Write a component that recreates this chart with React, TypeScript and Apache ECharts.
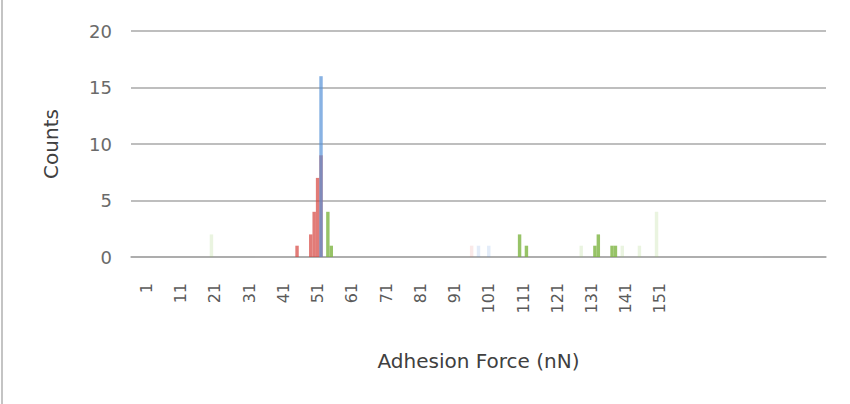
import React, { useEffect, useRef } from "react";
import * as echarts from "echarts";

// Histogram bins (Adhesion Force, nN). Excel-style axis: 4 empty leading slots,
// labelled bins 1..160, then empty trailing slots.
const LEAD_BLANKS = 4;
const BIN_COUNT = 160;
const TOTAL_SLOTS = 203;
const binLabels: string[] = Array.from({ length: BIN_COUNT }, (_, i) => String(i + 1));

// Counts per bin as [bin, count]
const redCounts: [number, number][] = [[45, 1], [49, 2], [50, 4], [51, 7], [52, 9]];
const blueCounts: [number, number][] = [[52, 16]];
const greenCounts: [number, number][] = [
  [54, 4], [55, 1], [110, 2], [112, 1], [132, 1], [133, 2], [137, 1], [138, 1],
];
const redLightCounts: [number, number][] = [[96, 1]];
const blueLightCounts: [number, number][] = [[98, 1], [101, 1]];
const greenLightCounts: [number, number][] = [[20, 2], [128, 1], [140, 1], [145, 1], [150, 4]];

const yTicks = [0, 5, 10, 15, 20];

const categories: string[] = [
  ...Array(LEAD_BLANKS).fill(""),
  ...binLabels,
  ...Array(TOTAL_SLOTS - LEAD_BLANKS - BIN_COUNT).fill(""),
];

function expand(pairs: [number, number][]): (number | null)[] {
  const arr: (number | null)[] = Array(TOTAL_SLOTS).fill(null);
  pairs.forEach(([bin, v]) => {
    arr[LEAD_BLANKS + bin - 1] = v;
  });
  return arr;
}

export default function App() {
  const ref = useRef<HTMLDivElement>(null);
  useEffect(() => {
    if (!ref.current) return;
    const chart = echarts.init(ref.current, undefined, { renderer: "svg" });
    const font = "DejaVu Sans";
    const mk = (name: string, pairs: [number, number][], color: string) => ({
      name,
      type: "bar",
      data: expand(pairs),
      barGap: "-100%",
      barCategoryGap: "0%",
      itemStyle: { color },
      emphasis: { disabled: true },
    });
    chart.setOption({
      animation: false,
      backgroundColor: "#ffffff",
      grid: { left: 131, right: 24, top: 31, bottom: 147, containLabel: false },
      graphic: [
        { type: "rect", left: 1, top: 0, shape: { width: 2, height: 404 }, style: { fill: "#c4c4c4" } },
      ],
      xAxis: {
        type: "category",
        data: categories,
        name: "Adhesion Force (nN)",
        nameLocation: "middle",
        nameGap: 94,
        nameTextStyle: { fontFamily: font, fontSize: 20, color: "#404040" },
        axisLine: { lineStyle: { color: "#a8a8a8", width: 1.5 } },
        axisTick: { show: false },
        axisLabel: {
          rotate: 90,
          margin: 26,
          fontFamily: font,
          fontSize: 16,
          color: "#5a5a5a",
          interval: (_i: number, v: string) => v !== "" && (Number(v) - 1) % 10 === 0,
        },
        splitLine: { show: false },
      },
      yAxis: {
        type: "value",
        min: yTicks[0],
        max: yTicks[yTicks.length - 1],
        interval: 5,
        name: "Counts",
        nameLocation: "middle",
        nameGap: 70,
        nameRotate: 90,
        nameTextStyle: { fontFamily: font, fontSize: 20, color: "#404040" },
        axisLine: { show: false },
        axisTick: { show: false },
        axisLabel: { margin: 19, fontFamily: font, fontSize: 18, color: "#6a6a6a" },
        splitLine: { lineStyle: { color: "#a8a8a8", width: 1.5 } },
      },
      series: [
        mk("Red light", redLightCounts, "rgba(220,110,100,0.15)"),
        mk("Blue light", blueLightCounts, "rgba(100,150,220,0.18)"),
        mk("Green light", greenLightCounts, "rgba(150,200,100,0.2)"),
        mk("Red", redCounts, "rgba(215,72,66,0.72)"),
        mk("Blue", blueCounts, "rgba(85,145,215,0.7)"),
        mk("Green", greenCounts, "rgba(125,180,65,0.8)"),
      ],
    });
    return () => chart.dispose();
  }, []);
  return (
    <div
      ref={ref}
      style={{ position: "fixed", left: 0, top: 0, width: 850, height: 404, background: "#fff" }}
    />
  );
}
